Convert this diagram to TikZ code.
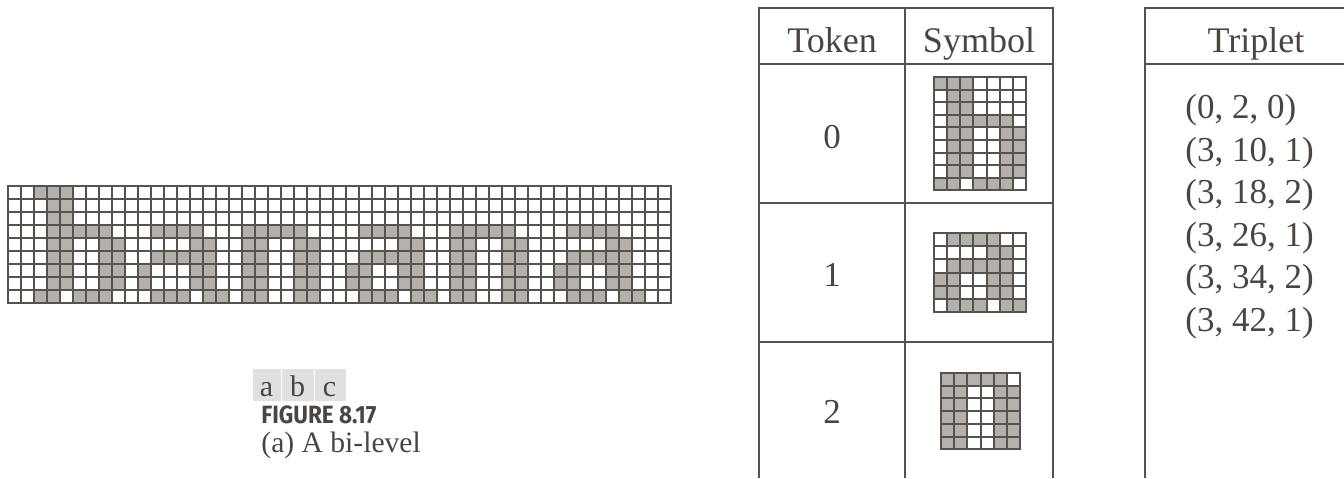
\documentclass[tikz,border=0pt]{standalone}
\usepackage{fontspec}
\setmainfont{Liberation Serif}
\newfontfamily\figfont[FakeStretch=0.9]{Fira Sans}
\definecolor{cellgray}{HTML}{B4B1AC}
\definecolor{linecol}{HTML}{57524D}
\definecolor{txtcol}{HTML}{4A4541}
\definecolor{capbox}{HTML}{E1E0DE}
\tikzset{
  gridline/.style={draw=linecol, line width=1pt},
  tabline/.style={draw=linecol, line width=1.1pt},
  hdr/.style={text=txtcol, inner sep=0pt, anchor=base, font=\fontsize{18}{21}\selectfont},
  tok/.style={text=txtcol, inner sep=0pt, anchor=center, font=\fontsize{17.5}{21}\selectfont},
  trip/.style={text=txtcol, inner sep=0pt, anchor=base west, font=\fontsize{17.5}{21}\selectfont},
  lab/.style={text=txtcol, inner sep=0pt, anchor=base, font=\fontsize{15}{18}\selectfont},
  figlab/.style={text=txtcol, inner sep=0pt, anchor=base west, font=\figfont\bfseries\fontsize{12.5}{15}\selectfont},
  caption/.style={text=txtcol, inner sep=0pt, anchor=base west, font=\fontsize{14.8}{18}\selectfont}
}
% #1 x0, #2 y0, #3 cell width, #4 cell height, #5 rows macro
\newcommand\symcells[5]{%
  \foreach \rw [count=\ri from 0] in #5 {%
    \foreach \v [count=\ci from 0] in \rw {%
      \ifnum\v=1 \fill[cellgray] ({#1+\ci*#3},{#2+\ri*#4}) rectangle ++(#3,#4);\fi
    }%
  }%
}
% #1 x0, #2 y0, #3 cw, #4 ch, #5 ncols, #6 nrows
\newcommand\gridlines[6]{%
  \foreach \k in {0,...,#5} \draw[gridline] ({#1+\k*#3},#2) -- ++(0,{#6*#4});
  \foreach \k in {0,...,#6} \draw[gridline] (#1,{#2+\k*#4}) -- ++({#5*#3},0);
  \draw[gridline] (#1,#2) rectangle ++({#5*#3},{#6*#4});
}
\def\symB{{1,1,1,0,0,0,0},{0,1,1,0,0,0,0},{0,1,1,0,0,0,0},{0,1,1,1,1,1,0},{0,1,1,0,0,1,1},{0,1,1,0,0,1,1},{0,1,1,0,0,1,1},{0,1,1,0,0,1,1},{1,1,0,1,1,1,0}}
\def\symA{{0,1,1,1,1,0,0},{0,0,0,0,1,1,0},{0,1,1,1,1,1,0},{1,1,0,0,1,1,0},{1,1,0,0,1,1,0},{0,1,1,1,0,1,1}}
\def\symAfirst{{0,1,1,1,1,0,0},{0,0,0,0,1,1,0},{0,1,1,1,1,1,0},{1,0,0,0,1,1,0},{1,0,0,0,1,1,0},{0,1,1,1,0,1,1}}
\def\symN{{1,1,1,1,1,0},{1,1,0,0,1,1},{1,1,0,0,1,1},{1,1,0,0,1,1},{1,1,0,0,1,1},{1,1,0,0,1,1}}
\begin{document}
\begin{tikzpicture}[x=0.5pt,y=-0.5pt]
\useasboundingbox (0,0) rectangle (1344,478);
\begin{scope}
\clip (0,0) rectangle (1344,478);
% ---- banana bi-level image ----
\symcells{34}{186}{13}{13}{\symB}
\symcells{138}{225}{13}{13}{\symAfirst}
\symcells{242}{225}{13}{13}{\symN}
\symcells{346}{225}{13}{13}{\symA}
\symcells{450}{225}{13}{13}{\symN}
\symcells{554}{225}{13}{13}{\symA}
\gridlines{8}{186}{13}{13}{51}{9}
% ---- left table ----
\draw[tabline] (759,478) -- (759,8) -- (1053,8) -- (1053,478);
\draw[tabline] (905,8) -- (905,478);
\draw[tabline] (759,64) -- (1053,64);
\draw[tabline] (759,203) -- (1053,203);
\draw[tabline] (759,342) -- (1053,342);
\node[hdr] (hToken) at (832,52) {Token};
\node[hdr] (hSymbol) at (979,52) {Symbol};
\node[tok] (t0) at (832,137) {0};
\node[tok] (t1) at (832,275) {1};
\node[tok] (t2) at (832,412) {2};
\symcells{934}{77}{13.14}{12.6}{\symB}
\gridlines{934}{77}{13.14}{12.6}{7}{9}
\symcells{934}{233}{13.14}{13.2}{\symA}
\gridlines{934}{233}{13.14}{13.2}{7}{6}
\symcells{941}{373}{13.2}{12.7}{\symN}
\gridlines{941}{373}{13.2}{12.7}{6}{6}
% ---- right table ----
\draw[tabline] (1145,478) -- (1145,8) -- (1350,8);
\draw[tabline] (1145,64) -- (1350,64);
\node[hdr] (hTriplet) at (1256,52) {Triplet};
\node[trip] (r1) at (1185,118.5) {(0, 2, 0)};
\node[trip] (r2) at (1185,161) {(3, 10, 1)};
\node[trip] (r3) at (1185,203.5) {(3, 18, 2)};
\node[trip] (r4) at (1185,246) {(3, 26, 1)};
\node[trip] (r5) at (1185,288.5) {(3, 34, 2)};
\node[trip] (r6) at (1185,331) {(3, 42, 1)};
% ---- caption ----
\fill[capbox] (253,369) rectangle (281,401);
\fill[capbox] (282,369) rectangle (314,401);
\fill[capbox] (315,369) rectangle (346,401);
\node[lab] (la) at (266.5,396) {a};
\node[lab] (lb) at (297.5,396) {b};
\node[lab] (lc) at (329.5,396) {c};
\node[figlab] (fig) at (261,423) {FIGURE 8.17};
\node[caption] (cap) at (261,452) {(a) A bi-level};
\end{scope}
\end{tikzpicture}
\end{document}
